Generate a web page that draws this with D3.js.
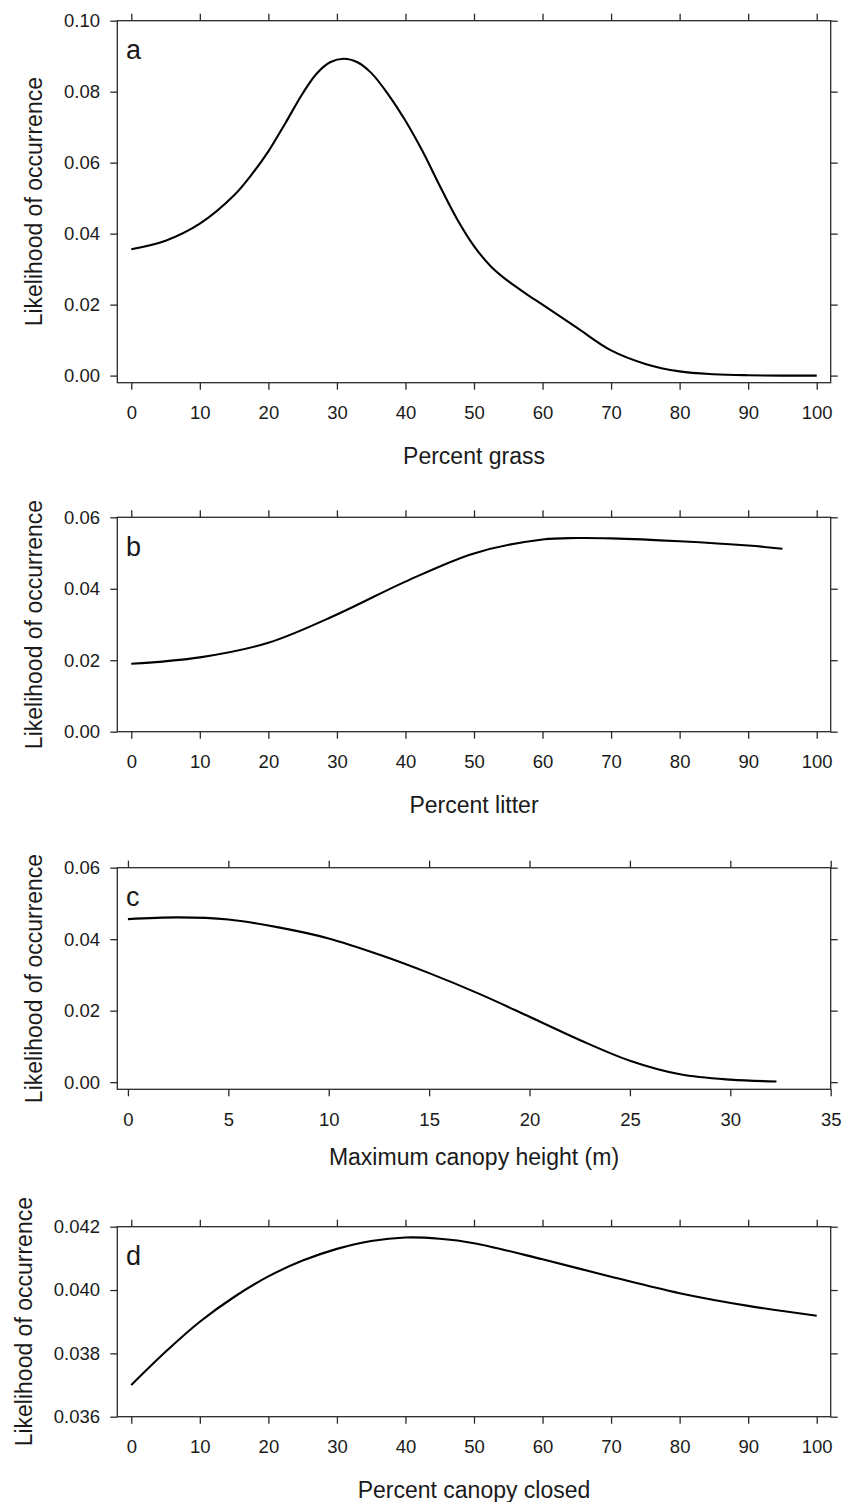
<!DOCTYPE html>
<html>
<head>
<meta charset="utf-8">
<script src="https://cdn.jsdelivr.net/npm/d3@7"></script>
<style>
  html, body { margin: 0; padding: 0; background: #fff; }
  svg text { font-family: "Liberation Sans", Arial, Helvetica, sans-serif; fill: #1a1a1a; }
</style>
</head>
<body>
<svg id="chart" width="851" height="1502"></svg>
<script>
// ---------- data ----------
const grassX = [0, 5, 10, 15, 17.5, 20, 22.5, 25, 27, 29, 31, 33, 35, 37.5, 40, 42.5, 45, 47.5, 50, 52.5, 55, 57.5, 60, 65, 70, 75, 80, 85, 90, 95, 100];
const grassY = [0.0356, 0.0380, 0.0428, 0.0508, 0.0565, 0.0632, 0.0712, 0.0795, 0.0850, 0.0883, 0.0893, 0.0883, 0.0853, 0.0792, 0.0718, 0.0632, 0.0535, 0.0442, 0.0365, 0.0307, 0.0266, 0.0232, 0.0200, 0.0135, 0.0071, 0.0033, 0.0012, 0.0004, 0.0001, 0.0000, 0.0000];

const litterX = [0, 10, 20, 30, 40, 50, 60, 65, 70, 80, 90, 95];
const litterY = [0.0190, 0.0208, 0.0249, 0.0328, 0.0420, 0.0499, 0.0538, 0.0542, 0.0541, 0.0533, 0.0521, 0.0512];

const heightX = [0, 2.5, 5, 7.5, 10, 12.5, 15, 17.5, 20, 22.5, 25, 27.5, 30, 32.3];
const heightY = [0.0456, 0.0461, 0.0455, 0.0433, 0.0402, 0.0357, 0.0305, 0.0247, 0.0183, 0.0118, 0.0060, 0.0022, 0.0007, 0.0002];

const canopyX = [0, 5, 10, 15, 20, 25, 30, 35, 40, 45, 50, 60, 70, 80, 90, 100];
const canopyY = [0.0370, 0.03805, 0.0390, 0.03978, 0.04043, 0.04093, 0.04130, 0.04155, 0.04166, 0.04162, 0.04148, 0.04097, 0.04042, 0.03990, 0.03950, 0.03919];

const pctTicks = [0, 10, 20, 30, 40, 50, 60, 70, 80, 90, 100];
const heightTicks = [0, 5, 10, 15, 20, 25, 30, 35];
const yTicksA = [0.00, 0.02, 0.04, 0.06, 0.08, 0.10];
const yTicksBC = [0.00, 0.02, 0.04, 0.06];
const yTicksD = [0.036, 0.038, 0.040, 0.042];

const panelLetters = ["a", "b", "c", "d"];
const xTitles = ["Percent grass", "Percent litter", "Maximum canopy height (m)", "Percent canopy closed"];
const yTitle = "Likelihood of occurrence";

// ---------- layout ----------
const svg = d3.select("#chart");
const left = 117.3, right = 830.7;

const panels = [
  { x: grassX, y: grassY, xd: [-2.04, 102.04], yd: [-0.002, 0.10], top: 20.7, bottom: 382.7,
    xt: pctTicks, yt: yTicksA, yf: d3.format(".2f"), titleX: 34, titleOff: 81.6 },
  { x: litterX, y: litterY, xd: [-2.04, 102.04], yd: [0, 0.06], top: 517.3, bottom: 731.7,
    xt: pctTicks, yt: yTicksBC, yf: d3.format(".2f"), titleX: 34, titleOff: 81.6 },
  { x: heightX, y: heightY, xd: [-0.53, 35], yd: [-0.002, 0.06], top: 867.7, bottom: 1089.3,
    xt: heightTicks, yt: yTicksBC, yf: d3.format(".2f"), titleX: 34, titleOff: 76 },
  { x: canopyX, y: canopyY, xd: [-2.04, 102.04], yd: [0.036, 0.042], top: 1226.7, bottom: 1416.7,
    xt: pctTicks, yt: yTicksD, yf: d3.format(".3f"), titleX: 23.5, titleOff: 81.6 }
];

const axisColor = "#2a2a2a";

panels.forEach((p, i) => {
  const xs = d3.scaleLinear().domain(p.xd).range([left, right]);
  const ys = d3.scaleLinear().domain(p.yd).range([p.bottom, p.top]);
  const g = svg.append("g");

  const styleAxis = sel => {
    sel.select(".domain").remove();
    sel.selectAll("line").attr("stroke", axisColor).attr("stroke-width", 1.3);
    sel.selectAll("text").style("font-size", "18.5px").attr("fill", "#1a1a1a");
  };

  g.append("g").attr("transform", `translate(0,${p.bottom})`)
    .call(d3.axisBottom(xs).tickValues(p.xt).tickFormat(d3.format("d")).tickSize(7).tickSizeOuter(0).tickPadding(16.3))
    .call(styleAxis);
  g.append("g").attr("transform", `translate(0,${p.top})`)
    .call(d3.axisTop(xs).tickValues(p.xt).tickFormat("").tickSize(7).tickSizeOuter(0))
    .call(styleAxis);
  g.append("g").attr("transform", `translate(${left},0)`)
    .call(d3.axisLeft(ys).tickValues(p.yt).tickFormat(p.yf).tickSize(7).tickSizeOuter(0).tickPadding(10.3))
    .call(styleAxis);
  g.append("g").attr("transform", `translate(${right},0)`)
    .call(d3.axisRight(ys).tickValues(p.yt).tickFormat("").tickSize(7).tickSizeOuter(0))
    .call(styleAxis);

  g.append("rect")
    .attr("x", left).attr("y", p.top)
    .attr("width", right - left).attr("height", p.bottom - p.top)
    .attr("fill", "none").attr("stroke", axisColor).attr("stroke-width", 1.3);

  const pts = p.x.map((v, k) => [v, p.y[k]]);
  g.append("path")
    .datum(pts)
    .attr("fill", "none")
    .attr("stroke", "#000")
    .attr("stroke-width", 2.1)
    .attr("stroke-linejoin", "round")
    .attr("stroke-linecap", "butt")
    .attr("d", d3.line().x(d => xs(d[0])).y(d => ys(d[1])).curve(d3.curveCatmullRom.alpha(0.5)));

  g.append("text")
    .attr("x", 126).attr("y", p.top + 38.5)
    .style("font-size", "27px")
    .text(panelLetters[i]);

  g.append("text")
    .attr("x", (left + right) / 2).attr("y", p.bottom + p.titleOff)
    .attr("text-anchor", "middle")
    .style("font-size", "23px")
    .text(xTitles[i]);

  const cy = (p.top + p.bottom) / 2;
  g.append("text")
    .attr("transform", `translate(${p.titleX + 8.3},${cy}) rotate(-90)`)
    .attr("text-anchor", "middle")
    .style("font-size", "23px")
    .text(yTitle);
});
</script>
</body>
</html>
